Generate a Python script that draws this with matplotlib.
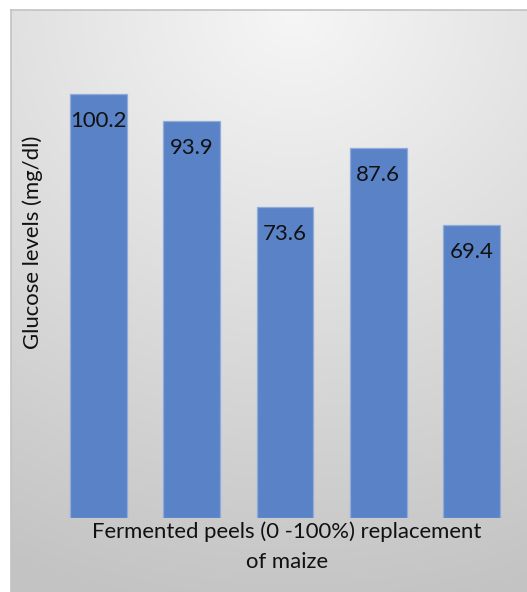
import numpy as np
import matplotlib
matplotlib.use("Agg")
import matplotlib.pyplot as plt

categories = ["0%", "25%", "50%", "75%", "100%"]
glucose = [100.2, 93.9, 73.6, 87.6, 69.4]
value_labels = ["100.2", "93.9", "73.6", "87.6", "69.4"]
ylabel = "Glucose levels (mg/dl)"
xlabel_lines = ["Fermented peels (0 -100%) replacement", "of maize"]

W, H = 527, 592
fig = plt.figure(figsize=(W / 100, H / 100), dpi=100)
fig.patch.set_facecolor("white")

# background panel with gradient
bx0, by0 = 11 / W, 0
bg = fig.add_axes([bx0, by0, 1 - bx0, 1 - 10 / H], zorder=0)
ny, nx = 200, 200
yy, xx = np.mgrid[0:1:ny * 1j, 0:1:nx * 1j]
d = np.sqrt(((xx - 0.55) * 0.8) ** 2 + (yy * 1.0) ** 2)
d = np.clip(d / 1.05, 0, 1)
top, bot = 0.965, 0.765
g = top - (top - bot) * d
img = np.dstack([g, g, g])
bg.imshow(img, aspect="auto", extent=[0, 1, 0, 1], origin="upper")
bg.set_xlim(0, 1)
bg.set_ylim(0, 1)
bg.set_xticks([])
bg.set_yticks([])
for s in ["right", "bottom"]:
    bg.spines[s].set_visible(False)
for s in ["top", "left"]:
    bg.spines[s].set_color("#c2c2c2")
    bg.spines[s].set_linewidth(1.2)

ax = fig.add_axes([51.85 / W, 74 / H, (518.15 - 51.85) / W, (518 - 40) / H], zorder=2)
ax.patch.set_alpha(0)
x = np.arange(len(categories))
bars = ax.bar(x, glucose, width=0.61, color="#5a83c7", edgecolor="#8fabdc", linewidth=0.9)
ax.set_xlim(-0.5, len(categories) - 0.5)
ax.set_ylim(0, (518 - 40) / 4.229)
ax.set_xticks([])
ax.set_yticks([])
for s in ax.spines.values():
    s.set_visible(False)

fam = ["Lato", "DejaVu Sans"]
fs = 15.9
for xi, v, lab in zip(x, glucose, value_labels):
    ax.annotate(lab, (xi, v), xytext=(0, -19.5), textcoords="offset points",
                ha="center", va="center", fontsize=fs, family=fam, color="#111111")

fig.text(33 / W, 1 - 242 / H, ylabel, rotation=90, ha="center", va="center",
         fontsize=fs, family=fam, color="#111111")
fig.text(287 / W, 1 - 532 / H, xlabel_lines[0], ha="center", va="center",
         fontsize=fs, family=fam, color="#111111")
fig.text(287 / W, 1 - 562 / H, xlabel_lines[1], ha="center", va="center",
         fontsize=fs, family=fam, color="#111111")

fig.savefig("out.png", dpi=100)
